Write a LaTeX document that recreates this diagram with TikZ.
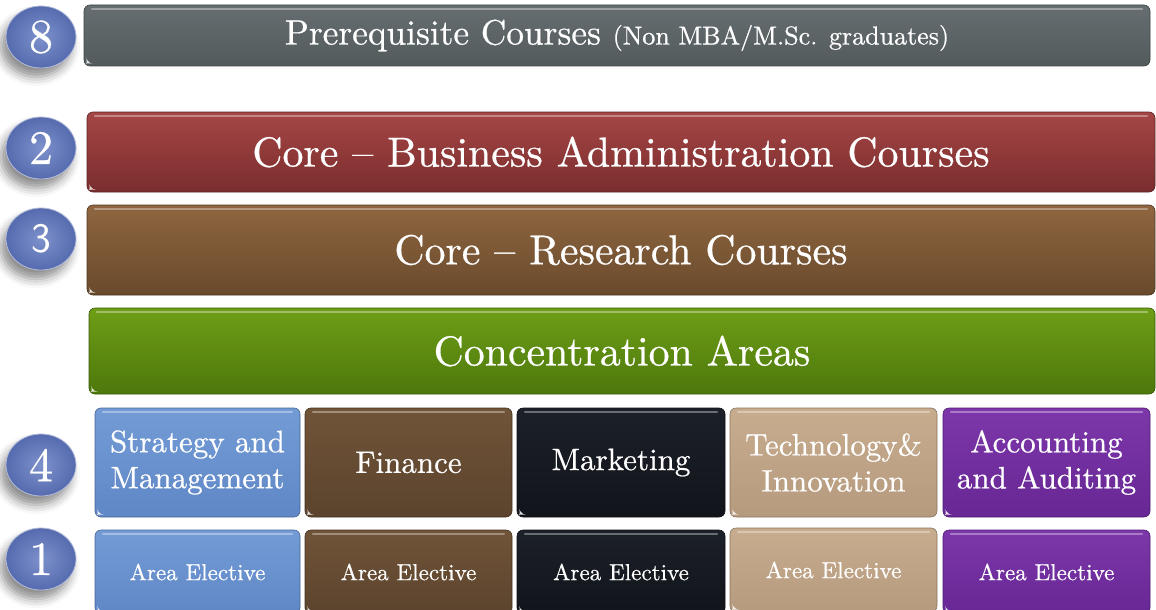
\documentclass[tikz,border=0pt]{standalone}
\usepackage{fontspec}
\setmainfont{lmroman10-regular.otf}[FakeBold=0.6]
\usetikzlibrary{shadows.blur,shapes.geometric}
\definecolor{greyT}{HTML}{676E71}
\definecolor{greyB}{HTML}{525A5C}
\definecolor{redT}{HTML}{A64646}
\definecolor{redB}{HTML}{7A2D2D}
\definecolor{brnT}{HTML}{8F6640}
\definecolor{brnB}{HTML}{694A2C}
\definecolor{grnT}{HTML}{6E9E16}
\definecolor{grnB}{HTML}{4D780C}
\definecolor{bluT}{HTML}{739CD6}
\definecolor{bluB}{HTML}{5F87C6}
\definecolor{finT}{HTML}{705438}
\definecolor{finB}{HTML}{5B432D}
\definecolor{mrkT}{HTML}{1C2029}
\definecolor{mrkB}{HTML}{11141A}
\definecolor{tanT}{HTML}{C7AC8E}
\definecolor{tanB}{HTML}{B69A7E}
\definecolor{purT}{HTML}{7D37AA}
\definecolor{purB}{HTML}{672794}
\definecolor{ballin}{HTML}{7D91CC}
\definecolor{ballout}{HTML}{566BAE}
\tikzset{
  glossy/.style 2 args={rectangle, rounded corners=6pt, inner sep=0pt, align=center,
    text=white, top color=#1, bottom color=#2, draw=#2!75!black, line width=0.6pt,
    path picture={\draw[white, opacity=0.35, line width=2.5pt, line cap=round]
      ([xshift=8pt,yshift=-4pt]path picture bounding box.north west) --
      ([xshift=-8pt,yshift=-4pt]path picture bounding box.north east);
      \fill[white, opacity=0.85] ([xshift=2.5pt,yshift=2.5pt]path picture bounding box.south west)
        -- ++(4pt,0) -- ++(-4pt,4pt) -- cycle;}},
  numball/.style={ellipse, minimum width=70pt, minimum height=62pt, inner sep=0pt,
    inner color=ballin, outer color=ballout, draw=white!55!ballout, line width=0.8pt,
    text=white, font=\fontsize{48}{48}\selectfont,
    blur shadow={shadow xshift=-5pt, shadow yshift=-9pt, shadow blur radius=9pt, shadow opacity=45}},
  bigtxt/.style={font=\fontsize{41.8}{46}\selectfont},
  areatxt/.style={font=\fontsize{31}{36}\selectfont},
  electxt/.style={font=\fontsize{23.1}{27}\selectfont},
}
\begin{document}
\begin{tikzpicture}[x=1pt,y=-1pt]
\useasboundingbox (0,0) rectangle (1156,610);
% bars
\node[glossy={greyT}{greyB}, minimum width=1066pt, minimum height=61pt] (pre) at (617,35.5)
  {\fontsize{35.3}{39}\selectfont Prerequisite Courses \fontsize{26}{29}\selectfont(Non MBA/M.Sc. graduates)};
\node[glossy={redT}{redB}, minimum width=1068pt, minimum height=80pt, bigtxt] (cba) at (621,152)
  {Core -- Business Administration Courses};
\node[glossy={brnT}{brnB}, minimum width=1068pt, minimum height=90pt, bigtxt] (crc) at (621,250)
  {Core -- Research Courses};
\node[glossy={grnT}{grnB}, minimum width=1066pt, minimum height=86pt, bigtxt] (conc) at (622,351)
  {Concentration Areas};
% concentration areas
\node[glossy={bluT}{bluB}, minimum width=205pt, minimum height=109pt, areatxt] (sm) at (197.5,462.5) {Strategy and\\Management};
\node[glossy={finT}{finB}, minimum width=207pt, minimum height=109pt, areatxt] (fin) at (408.5,462.5) {Finance};
\node[glossy={mrkT}{mrkB}, minimum width=208pt, minimum height=109pt, areatxt] (mkt) at (621,462.5) {Marketing};
\node[glossy={tanT}{tanB}, minimum width=207pt, minimum height=109pt, areatxt] (tec) at (833.5,462.5) {Technology\&\\Innovation};
\node[glossy={purT}{purB}, minimum width=207pt, minimum height=109pt, areatxt] (acc) at (1046.5,462.5) {Accounting\\and Auditing};
% electives
\node[glossy={bluT}{bluB}, minimum width=205pt, minimum height=84pt, electxt] (e1) at (197.5,572) {Area Elective};
\node[glossy={finT}{finB}, minimum width=207pt, minimum height=84pt, electxt] (e2) at (408.5,572) {Area Elective};
\node[glossy={mrkT}{mrkB}, minimum width=208pt, minimum height=84pt, electxt] (e3) at (621,572) {Area Elective};
\node[glossy={tanT}{tanB}, minimum width=207pt, minimum height=84pt, electxt] (e4) at (833.5,570) {Area Elective};
\node[glossy={purT}{purB}, minimum width=207pt, minimum height=84pt, electxt] (e5) at (1046.5,572) {Area Elective};
% number balls
\node[numball] (n8) at (41,37) {8};
\node[numball] (n2) at (41,148) {2};
\node[numball, font=\fontsize{42}{42}\sffamily] (n3) at (41,239) {3};
\node[numball] (n4) at (41,465) {4};
\node[numball] (n1) at (41,559) {1};
\end{tikzpicture}
\end{document}
